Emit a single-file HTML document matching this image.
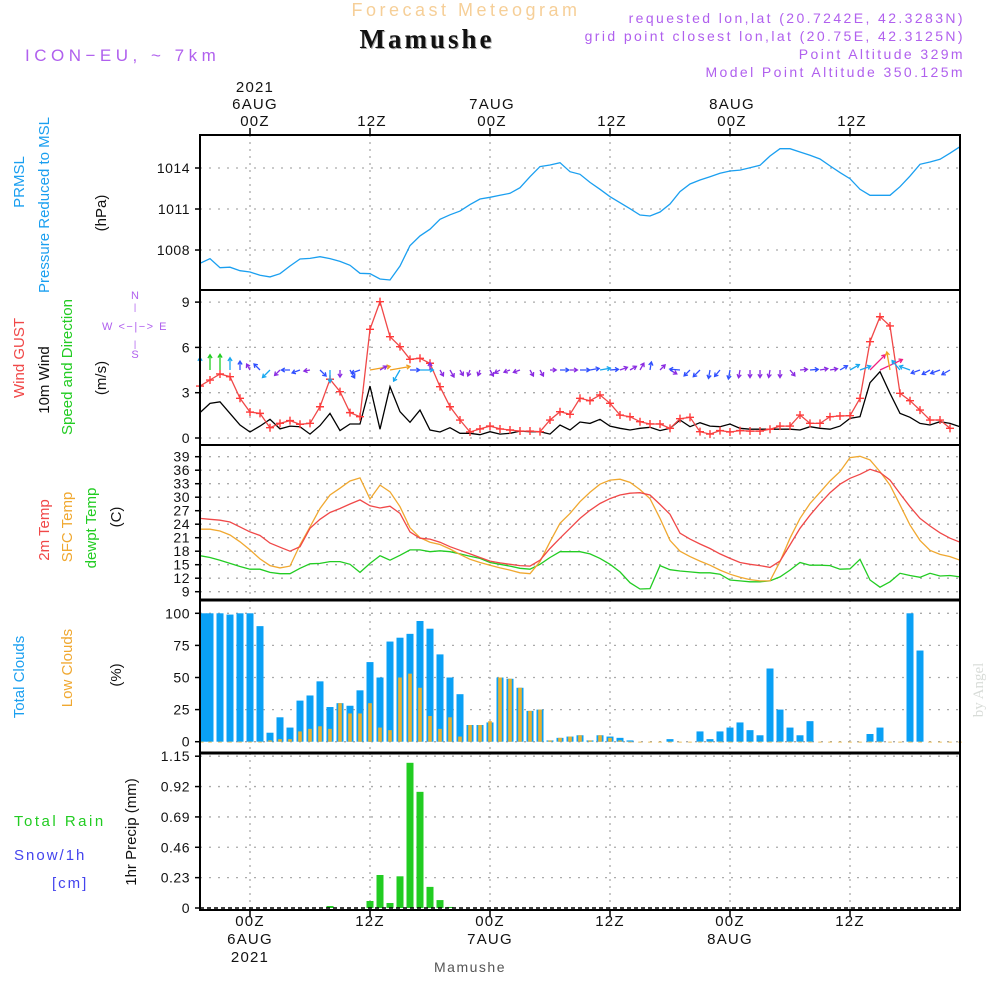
<!DOCTYPE html>
<html><head><meta charset="utf-8">
<style>
html,body{margin:0;padding:0;background:#fff;}
svg{display:block;font-family:"Liberation Sans",sans-serif;}
</style></head>
<body>
<svg id="chart" width="1000" height="1000" viewBox="0 0 1000 1000" xmlns="http://www.w3.org/2000/svg">
  <rect width="1000" height="1000" fill="#fff"/>
  <text x="466" y="16" text-anchor="middle" font-size="18" fill="#f6cf98" letter-spacing="3.5">Forecast Meteogram</text>
  <text x="428" y="49" text-anchor="middle" font-size="27" font-weight="bold" font-family="Liberation Serif,serif" fill="#aaa" letter-spacing="3">Mamushe</text>
  <text x="427" y="48" text-anchor="middle" font-size="27" font-weight="bold" font-family="Liberation Serif,serif" fill="#111" letter-spacing="3">Mamushe</text>
  <g fill="#b060ee" font-size="14" text-anchor="end" letter-spacing="2.4">
    <text x="965" y="23">requested lon,lat (20.7242E, 42.3283N)</text>
    <text x="965" y="41">grid point closest lon,lat (20.75E, 42.3125N)</text>
    <text x="965" y="59">Point Altitude 329m</text>
    <text x="965" y="77">Model Point Altitude 350.125m</text>
  </g>
  <text x="25" y="61" font-size="17" fill="#b060ee" letter-spacing="4.5">ICON−EU, ~ 7km</text>
  <g id="plots"></g>
  <g id="labels"></g>
</svg>
<script>
// ---- data (hourly, starting at hour -5 relative to 06AUG 00Z) ----
const startHour = -5;
const timeTicks = [0, 12, 24, 36, 48, 60];
const pressure = [1007.03,1007.37,1006.71,1006.74,1006.49,1006.39,1006.15,1006.03,1006.27,1006.83,1007.34,1007.39,1007.51,1007.37,1007.17,1006.88,1006.30,1006.27,1005.88,1005.81,1006.83,1008.32,1009.03,1009.52,1010.25,1010.58,1010.85,1011.32,1011.73,1011.86,1012.00,1012.15,1012.56,1013.36,1014.10,1014.22,1014.39,1013.73,1013.54,1012.95,1012.44,1011.90,1011.46,1011.02,1010.56,1010.49,1010.78,1011.37,1012.27,1012.83,1013.12,1013.36,1013.61,1013.78,1013.85,1014.02,1014.20,1014.88,1015.41,1015.41,1015.17,1014.93,1014.66,1014.15,1013.66,1013.22,1012.44,1012.00,1012.00,1012.00,1012.63,1013.41,1014.27,1014.44,1014.64,1015.08,1015.56];
const pressureTicks = [1008, 1011, 1014];
const gust = [3.44,3.84,4.24,4.06,2.63,1.72,1.63,0.68,0.97,1.15,0.91,0.97,2.07,3.89,3.07,1.68,1.41,7.2,9.03,6.71,6.05,5.21,5.28,4.95,3.40,2.07,1.19,0.40,0.60,0.79,0.60,0.53,0.46,0.46,0.42,1.19,1.74,1.57,2.63,2.47,2.85,2.30,1.52,1.41,1.08,0.93,0.93,0.64,1.28,1.37,0.42,0.26,0.49,0.40,0.49,0.46,0.46,0.58,0.79,0.79,1.52,0.97,0.97,1.41,1.46,1.48,2.63,6.38,8.03,7.42,2.96,2.47,1.85,1.19,1.19,0.64];
const wind10m = [1.68,2.29,2.40,1.63,0.86,0.40,0.79,1.24,0.60,0.79,0.75,0.26,0.82,1.63,0.49,0.93,0.93,3.44,0.58,3.40,1.74,1.04,1.85,0.53,0.40,0.68,0.31,0.31,0.22,0.42,0.26,0.31,0.46,0.42,0.42,0.26,0.86,0.53,1.06,0.97,1.24,0.79,0.64,0.53,0.64,0.71,0.49,0.64,1.19,0.75,1.01,0.79,0.75,0.93,0.64,0.58,0.58,0.58,0.58,0.58,0.53,0.75,0.64,0.58,0.79,1.30,1.41,3.66,4.39,2.96,1.63,1.37,0.97,0.86,1.08,0.97,0.75];
const windDir = [90,90,90,90,90,120,135,225,225,180,200,190,315,270,270,300,200,10,30,10,240,0,0,90,300,300,300,250,250,300,210,200,200,300,300,0,0,0,0,10,10,5,20,30,60,80,45,330,175,225,225,260,230,260,260,270,270,260,270,310,5,5,10,10,30,30,20,45,25,100,130,160,200,210,200,210];
const windTicks = [0, 3, 6, 9];
const temp2m = [25.3,25.1,24.9,24.5,23.4,22.3,21.5,19.8,18.9,18.0,19.0,23.1,25.1,26.6,27.5,28.5,29.4,28.1,27.6,28.0,26.4,22.3,20.9,20.7,20.0,19.0,18.2,17.4,16.6,15.8,15.4,15.1,14.8,14.7,16.0,18.6,20.9,23.1,25.3,27.1,28.6,29.7,30.5,30.9,31.0,30.5,28.4,26.2,22.0,20.7,19.6,18.6,17.4,16.4,15.5,15.1,14.8,14.4,15.8,19.4,23.1,26.0,28.6,31.0,32.9,34.2,35.1,36.2,35.5,33.8,30.8,27.9,25.3,23.6,22.1,20.9,20.0];
const tempSfc = [22.9,22.9,22.5,21.6,20.1,18.3,16.3,14.8,14.3,14.7,19.4,23.4,27.5,30.5,32.0,33.6,34.3,29.6,32.7,31.2,27.9,23.2,21.0,20.0,19.5,18.5,17.3,16.2,15.5,14.9,14.3,13.8,13.2,13.0,15.7,20.1,24.2,26.4,29.0,31.1,32.9,33.8,34.0,33.3,31.7,29.7,25.3,20.4,18.0,16.8,15.8,14.9,13.8,12.9,12.2,11.7,11.4,11.4,15.7,20.9,25.3,28.6,31.1,33.6,35.7,38.8,39.1,38.3,35.7,32.7,28.3,23.8,20.4,18.2,17.3,16.8,16.0];
const dewpt = [17.0,16.6,16.0,15.3,14.6,14.0,14.0,13.3,13.0,13.0,14.2,15.2,15.3,15.7,15.7,15.1,13.3,15.3,17.0,16.0,17.1,18.3,18.3,17.9,18.1,17.9,17.4,16.9,16.4,15.5,15.1,14.7,14.2,14.0,15.1,16.6,17.9,17.9,17.9,17.4,16.4,15.1,13.4,11.0,9.6,9.7,14.8,13.9,13.6,13.4,13.2,13.2,12.9,11.6,11.4,11.2,11.2,11.4,12.3,13.8,15.5,14.9,14.9,14.8,14.0,14.1,16.2,11.6,10.0,11.2,13.1,12.6,12.2,13.1,12.5,12.6,12.3];
const tempTicks = [9,12,15,18,21,24,27,30,33,36,39];
const totalClouds = [100,100,100,99,100,100,90,7,19,11,32,36,47,27,30,28,40,62,50,78,81,84,94,88,68,50,37,13,13,15,50,49,42,24,25,1,3,4,5,1,5,4,3,1,0,0,0,2,0,0,8,2,8,11,15,9,5,57,25,11,5,16,0,0,0,0,0,6,11,0,0,100,71,0,0,0,0];
const lowClouds = [0,0,0,0,0,0,0,1,2,2,8,10,12,10,30,22,22,30,11,9,50,53,42,20,10,19,4,13,13,16,50,49,42,24,25,1,3,4,5,1,5,3,1,0,0,0,0,0,0,0,0,0,0,0,0,0,0,0,0,0,0,0,0,0,0,0,0,0,0,0,0,0,0,0,0,0,0];
const cloudTicks = [0,25,50,75,100];
const precip = [0,0,0,0,0,0,0,0,0,0,0,0,0,0.015,0,0,0,0.053,0.25,0.038,0.24,1.10,0.88,0.16,0.06,0.008,0,0,0,0,0,0,0,0,0,0,0,0,0,0,0,0,0,0,0,0,0,0,0,0,0,0,0,0,0,0,0,0,0,0,0,0,0,0,0,0,0,0,0,0,0,0,0,0,0,0,0];
const precipTicks = ["0","0.23","0.46","0.69","0.92","1.15"];

// ---- axes ----
const X0 = 200, X1 = 960;
const xH = h => 250 + 10*h;
const panels = [
  {name:'pressure', top:135, bot:290},
  {name:'wind', top:290, bot:445},
  {name:'temperature', top:445, bot:600},
  {name:'clouds', top:600, bot:753},
  {name:'precip', top:753, bot:910}
];
const yP = p => 168 + (1014 - p)*13.67;
const yW = v => 438 - v*15.1;
const yT = t => 591.7 - (t - 9)*4.5;
const yC = c => 741.7 - c*1.284;
const yR = r => 908 - r*132;

const NS = 'http://www.w3.org/2000/svg';
const plots = document.getElementById('plots');
function mk(tag, attrs, parent){
  const e = document.createElementNS(NS, tag);
  for (const k in attrs) e.setAttribute(k, attrs[k]);
  (parent||plots).appendChild(e);
  return e;
}
function line(x1,y1,x2,y2,st,w,dash){
  const e = mk('line',{x1:x1,y1:y1,x2:x2,y2:y2,stroke:st,'stroke-width':w||1});
  if (dash) e.setAttribute('stroke-dasharray', dash);
  return e;
}
function txt(x,y,s,opts){
  const e = mk('text',{x:x,y:y,'font-size':(opts&&opts.size)||14,fill:(opts&&opts.fill)||'#111','text-anchor':(opts&&opts.anchor)||'end','letter-spacing':(opts&&opts.ls)||0.5});
  e.textContent = s;
  return e;
}
function polyline(vals, yf, color, name){
  const pts = vals.map((v,i)=> xH(startHour+i).toFixed(1)+','+yf(v).toFixed(1)).join(' ');
  const e = mk('polyline',{points:pts,fill:'none',stroke:color,'stroke-width':1.3});
  
  
  return e;
}

// grid
function hgrid(ys, top, bot){
  ys.forEach(y => { line(X0, y, X1, y, '#aaa', 1.3, '2,7'); });
  timeTicks.forEach(h => { line(xH(h), top, xH(h), bot, '#aaa', 1.3, '2,5'); });
}
hgrid(pressureTicks.map(yP), 135, 290);
hgrid(windTicks.map(yW), 290, 445);
hgrid(tempTicks.map(yT), 445, 600);
hgrid(cloudTicks.map(yC), 600, 753);
hgrid(precipTicks.map(v=>yR(parseFloat(v))).filter(y=>y<905), 753, 910);

// y tick labels
pressureTicks.forEach(p => { const t = txt(190, yP(p)+5, String(p));   line(X0-5,yP(p),X0,yP(p),'#000',1.5); });
windTicks.forEach(v => { const t = txt(190, yW(v)+5, String(v));   line(X0-5,yW(v),X0,yW(v),'#000',1.5); });
tempTicks.forEach(v => { const t = txt(190, yT(v)+5, String(v));   line(X0-5,yT(v),X0,yT(v),'#000',1.5); });
cloudTicks.forEach(v => { const t = txt(190, yC(v)+5, String(v));   line(X0-5,yC(v),X0,yC(v),'#000',1.5); });
precipTicks.forEach(v => { const y = yR(parseFloat(v)); const t = txt(190, y+5, v);   line(X0-5,y,X0,y,'#000',1.5); });

// pressure
polyline(pressure, yP, '#1a9ff0', 'pressure-line');

// wind
polyline(wind10m, yW, '#000', 'wind-10m-line');
polyline(gust, yW, '#f04848', 'wind-gust-line');
gust.forEach((v,i) => {
  const x = xH(startHour+i), y = yW(v);
  const g = mk('path',{d:`M${x-4},${y}H${x+4}M${x},${y-4}V${y+4}`,stroke:'#ff3a3a','stroke-width':1.4});
  
  
});
function speedColor(s){
  if (s < 0.7) return '#8a2be2';
  if (s < 1.2) return '#3050ff';
  if (s < 1.9) return '#18a8f0';
  if (s < 2.6) return '#20cc20';
  if (s < 3.6) return '#f0a020';
  return '#f02080';
}
windDir.forEach((a,i) => {
  const s = wind10m[i];
  const L = 5 + s*4.5;
  const x0 = xH(startHour+i), y0 = 370;
  const r = a*Math.PI/180;
  const x1 = x0 + L*Math.cos(r), y1 = y0 - L*Math.sin(r);
  const c = speedColor(s);
  const h1 = r + Math.PI*0.82, h2 = r - Math.PI*0.82;
  const p = mk('path',{d:`M${x0.toFixed(1)},${y0}L${x1.toFixed(1)},${y1.toFixed(1)}M${(x1+4*Math.cos(h1)).toFixed(1)},${(y1-4*Math.sin(h1)).toFixed(1)}L${x1.toFixed(1)},${y1.toFixed(1)}L${(x1+4*Math.cos(h2)).toFixed(1)},${(y1-4*Math.sin(h2)).toFixed(1)}`,stroke:c,'stroke-width':1.3,fill:'none'});
  
  
});

// temperature
polyline(dewpt, yT, '#22cc22', 'dewpoint-line');
polyline(tempSfc, yT, '#f0a830', 'sfc-temp-line');
polyline(temp2m, yT, '#f04848', '2m-temp-line');

// clouds
totalClouds.forEach((c,i) => {
  const x = xH(startHour+i);
  const b = mk('rect',{x:Math.max(X0,x-3.5),y:yC(c),width:7,height:yC(0)-yC(c),fill:'#0aa0f5'});
  
  
});
lowClouds.forEach((c,i) => {
  const x = xH(startHour+i);
  const b = mk('rect',{x:Math.max(X0,x-1.8),y:yC(c),width:3.6,height:Math.max(0.8,yC(0)-yC(c)),fill:'#e8b030'});
  
  
});

// precip
precip.forEach((r,i) => {
  if (r <= 0) return;
  const x = xH(startHour+i);
  const b = mk('rect',{x:x-3.5,y:yR(r),width:7,height:yR(0)-yR(r),fill:'#22cc22'});
  
  
});
line(X0, 908, X1, 908, '#000', 1.5, '4,3');

// frames
panels.forEach(p => {
  const r = mk('rect',{x:X0,y:p.top,width:X1-X0,height:p.bot-p.top,fill:'none',stroke:'#000','stroke-width':2});
  
  
});
line(X0,600,X1,600,'#000',3);
line(X0,753,X1,753,'#000',3);
timeTicks.forEach(h => { line(xH(h),128,xH(h),135,'#000',1.5); line(xH(h),910,xH(h),917,'#000',1.5); });

// time labels
const topLab = [["2021","6AUG","00Z"],["","","12Z"],["","7AUG","00Z"],["","","12Z"],["","8AUG","00Z"],["","","12Z"]];
const botLab = [["00Z","6AUG","2021"],["12Z","",""],["00Z","7AUG",""],["12Z","",""],["00Z","8AUG",""],["12Z","",""]];
timeTicks.forEach((h,i) => {
  const xt = i===0 ? 255 : xH(h)+2;
  topLab[i].forEach((s,j) => { if(s){ const t = txt(xt, 92+j*17, s, {anchor:'middle',size:15,ls:1.2});   } });
  botLab[i].forEach((s,j) => { if(s){ const t = txt(xH(h), 926+j*18, s, {anchor:'middle',size:15,ls:1.2});   } });
});
</script>
<script>
const L = document.getElementById('labels');
function vlab(x, yc, s, color, name){
  const e = document.createElementNS('http://www.w3.org/2000/svg','text');
  e.setAttribute('x', x); e.setAttribute('y', yc);
  e.setAttribute('transform', `rotate(-90 ${x} ${yc})`);
  e.setAttribute('text-anchor','middle');
  e.setAttribute('font-size','15');
  e.setAttribute('fill', color);
  
  
  e.textContent = s;
  L.appendChild(e);
}
function hlab(x, y, s, color, name, size, anchor, ls){
  const e = document.createElementNS('http://www.w3.org/2000/svg','text');
  e.setAttribute('x', x); e.setAttribute('y', y);
  e.setAttribute('font-size', size||15);
  e.setAttribute('fill', color);
  if (anchor) e.setAttribute('text-anchor', anchor);
  if (ls) e.setAttribute('letter-spacing', ls);
  
  
  e.textContent = s;
  L.appendChild(e);
}
vlab(24, 182, 'PRMSL', '#1a9ff0', 'prmsl-label');
vlab(49, 205, 'Pressure Reduced to MSL', '#1a9ff0', 'pressure-label');
vlab(106, 213, '(hPa)', '#111', 'hpa-unit');
vlab(24, 358, 'Wind GUST', '#f04848', 'wind-gust-label');
vlab(49, 380, '10m Wind', '#111', 'wind-10m-label');
vlab(72, 367, 'Speed and Direction', '#22cc22', 'speed-direction-label');
vlab(106, 378, '(m/s)', '#111', 'ms-unit');
hlab(135, 299, 'N', '#b060ee', 'compass-n', 11, 'middle');
hlab(135, 310, '|', '#b060ee', 'compass-tick', 9, 'middle');
hlab(135, 330, 'W  <−|−>  E', '#b060ee', 'compass-we', 11, 'middle', 1.5);
hlab(135, 347, '|', '#b060ee', 'compass-tick2', 9, 'middle');
hlab(135, 358, 'S', '#b060ee', 'compass-s', 11, 'middle');
vlab(49, 530, '2m Temp', '#f04848', '2m-temp-label');
vlab(72, 527, 'SFC Temp', '#f0a830', 'sfc-temp-label');
vlab(96, 528, 'dewpt Temp', '#22cc22', 'dewpt-label');
vlab(121, 517, '(C)', '#111', 'c-unit');
vlab(24, 677, 'Total Clouds', '#1a9ff0', 'total-clouds-label');
vlab(72, 668, 'Low Clouds', '#f0a830', 'low-clouds-label');
vlab(121, 675, '(%)', '#111', 'pct-unit');
hlab(14, 826, 'Total  Rain', '#22cc22', 'total-rain-label', 15, null, 2.5);
hlab(14, 860, 'Snow/1h', '#4444ee', 'snow-label', 15, null, 2);
hlab(52, 888, '[cm]', '#4444ee', 'cm-label', 15, null, 2);
vlab(136, 832, '1hr Precip (mm)', '#111', 'precip-axis-title');
hlab(470, 972, 'Mamushe', '#555', 'bottom-location', 14, 'middle', 1.5);
const by = document.createElementNS('http://www.w3.org/2000/svg','text');
by.setAttribute('x', 983); by.setAttribute('y', 690);
by.setAttribute('transform','rotate(-90 983 690)');
by.setAttribute('text-anchor','middle');
by.setAttribute('font-size','15');
by.setAttribute('font-family','Liberation Serif,serif');
by.setAttribute('fill','#d8dcd8');


by.textContent = 'by Angel';
L.appendChild(by);
</script>
</body></html>
